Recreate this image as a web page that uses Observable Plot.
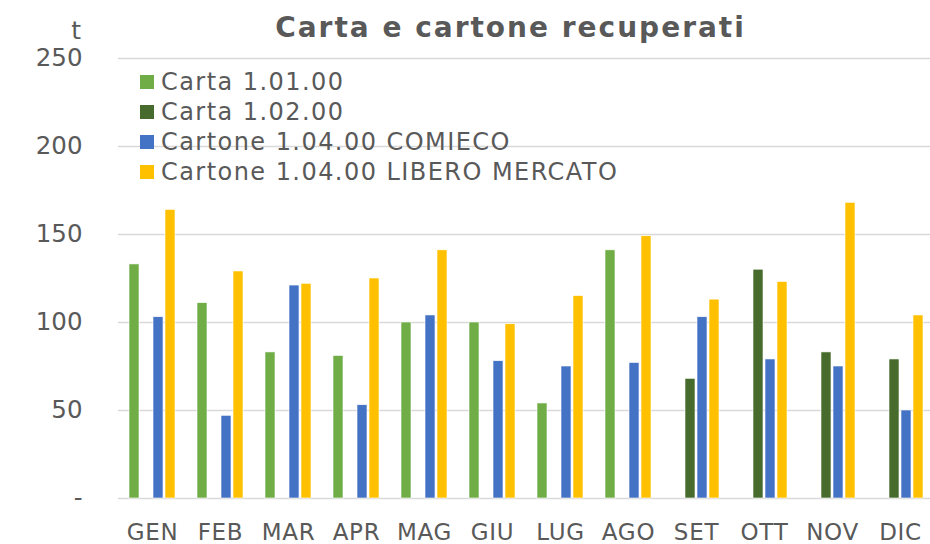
<!DOCTYPE html>
<html><head><meta charset="utf-8">
<script src="https://cdn.jsdelivr.net/npm/d3@7"></script>
<script src="https://cdn.jsdelivr.net/npm/@observablehq/plot@0.6"></script>
<style>
body{margin:0;background:#fff;}
#wrap{position:relative;width:930px;height:544px;overflow:hidden;font-family:"DejaVu Sans",sans-serif;color:#595959;}
#title{position:absolute;left:0;width:1021px;top:11px;text-align:center;font-weight:bold;font-size:28px;letter-spacing:2px;line-height:34px;}
#unit{position:absolute;left:40px;width:41px;text-align:right;top:16px;font-size:25px;line-height:30px;}
#legend{position:absolute;left:140px;top:67px;font-size:24px;letter-spacing:1.45px;}
#legend .row{height:30px;line-height:30px;display:flex;align-items:center;white-space:nowrap;}
#legend .sw{width:14px;height:14px;margin-right:7px;flex:none;}
#chart{position:absolute;left:0;top:0;}
g[aria-label="y-axis tick label"]{font-size:24.5px;}
g[aria-label="fx-axis tick label"]{font-size:23px;letter-spacing:0.7px;}
</style>
</head><body>
<div id="wrap">
  <div id="chart"></div>
  <div id="title">Carta e cartone recuperati</div>
  <div id="unit">t</div>
  <div id="legend"></div>
</div>
<script>
const months = ["GEN","FEB","MAR","APR","MAG","GIU","LUG","AGO","SET","OTT","NOV","DIC"];
const series = ["Carta 1.01.00","Carta 1.02.00","Cartone 1.04.00 COMIECO","Cartone 1.04.00 LIBERO MERCATO"];
const colors = ["#70ad47","#476b2c","#4472c4","#ffc000"];
const carta101 = [133, 111, 83, 81, 100, 100, 54, 141, null, null, null, null];
const carta102 = [null, null, null, null, null, null, null, null, 68, 130, 83, 79];
const comieco  = [103, 47, 121, 53, 104, 78, 75, 77, 103, 79, 75, 50];
const libero   = [164, 129, 122, 125, 141, 99, 115, 149, 113, 123, 168, 104];
const yTicks = [0, 50, 100, 150, 200, 250];

const seriesValues = [carta101, carta102, comieco, libero];
const rows = [];
seriesValues.forEach((vals, si) => {
  vals.forEach((v, mi) => {
    if (v != null) rows.push({month: months[mi], series: series[si], value: v});
  });
});

const chart = Plot.plot({
  width: 930,
  height: 544,
  marginTop: 58,
  marginBottom: 46,
  marginLeft: 117,
  marginRight: -4,
  style: {fontFamily: "DejaVu Sans, sans-serif", color: "#595959", background: "transparent", overflow: "visible"},
  fx: {domain: months, padding: 0, label: null, axis: "bottom", tickSize: 0, tickPadding: 25},
  x: {domain: series, paddingInner: 0.2, paddingOuter: 0.84, axis: null},
  y: {domain: [0, 250], ticks: yTicks, tickFormat: d => d === 0 ? "-" : String(d), tickSize: 0, tickPadding: 36, label: null},
  color: {domain: series, range: colors},
  marks: [
    Plot.ruleY(yTicks, {stroke: "#d9d9d9", strokeWidth: 1.5}),
    Plot.barY(rows, {fx: "month", x: "series", y: "value", fill: "series", stroke: "#ffffff", strokeWidth: 0.6})
  ]
});
document.getElementById("chart").appendChild(chart);

const legend = document.getElementById("legend");
series.forEach((s, i) => {
  const row = document.createElement("div");
  row.className = "row";
  const sw = document.createElement("span");
  sw.className = "sw";
  sw.style.background = colors[i];
  const tx = document.createElement("span");
  tx.textContent = s;
  row.appendChild(sw);
  row.appendChild(tx);
  legend.appendChild(row);
});
</script>
</body></html>
